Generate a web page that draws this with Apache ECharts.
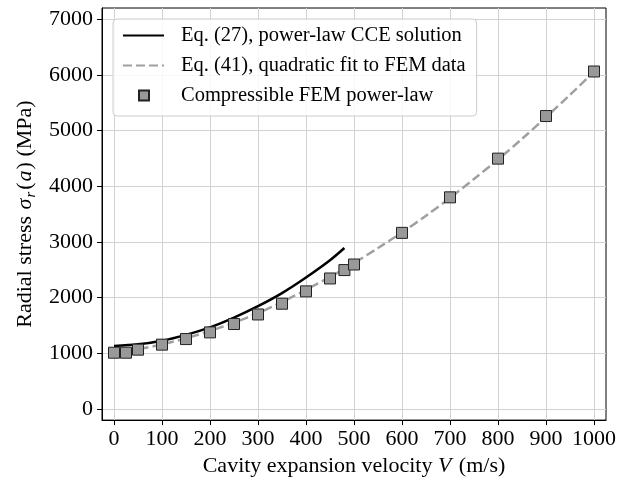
<!DOCTYPE html>
<html>
<head>
<meta charset="utf-8">
<script src="https://cdn.jsdelivr.net/npm/echarts@6/dist/echarts.min.js"></script>
<style>html,body{margin:0;padding:0;background:#fff}#c{width:627px;height:482px}</style>
</head>
<body>
<div id="c"></div>
<script>
// Tick labels
var xTicks = [0, 100, 200, 300, 400, 500, 600, 700, 800, 900, 1000];
var yTicks = [0, 1000, 2000, 3000, 4000, 5000, 6000, 7000];

// Eq. (27), power-law CCE solution
var cceV = [0, 50, 100, 150, 200, 250, 300, 350, 400, 450, 480];
var cceS = [1130, 1160, 1225, 1330, 1465, 1640, 1845, 2080, 2360, 2670, 2890];

// Eq. (41), quadratic fit to FEM data
var fitV = [0, 50, 100, 150, 200, 250, 300, 350, 400, 450, 500, 550, 600, 650, 700, 750, 800, 850, 900, 950, 1000];
var fitS = [1000, 1070, 1160, 1270, 1400, 1550, 1720, 1920, 2140, 2370, 2620, 2890, 3170, 3470, 3790, 4130, 4480, 4850, 5240, 5640, 6060];

// Compressible FEM power-law
var femV = [0, 25, 50, 100, 150, 200, 250, 300, 350, 400, 450, 480, 500, 600, 700, 800, 900, 1000];
var femS = [1010, 1010, 1065, 1155, 1255, 1375, 1525, 1697, 1890, 2112, 2343, 2494, 2594, 3162, 3800, 4495, 5260, 6060];

var names = ['Eq. (27), power-law CCE solution', 'Eq. (41), quadratic fit to FEM data', 'Compressible FEM power-law'];

function pairs(a, b) { return a.map(function (v, i) { return [v, b[i]]; }); }

var FONT = 'Liberation Serif';
var FS = 22;
var LFS = 20.5;
var chart = echarts.init(document.getElementById('c'), null, {renderer: 'canvas'});
chart.setOption({
  animation: false,
  backgroundColor: '#fff',
  textStyle: {fontFamily: FONT, color: '#000'},
  grid: {left: 102, right: 21, top: 8, bottom: 58, show: true, borderColor: '#000', borderWidth: 1, backgroundColor: 'transparent'},
  xAxis: {
    type: 'value', min: -25, max: 1025,
    name: '{n|Cavity expansion velocity }{i|V}{n| (m/s)}',
    nameLocation: 'middle', nameGap: 31,
    nameTextStyle: {rich: {
      n: {fontFamily: FONT, fontSize: FS, color: '#000'},
      i: {fontFamily: FONT, fontSize: FS, color: '#000', fontStyle: 'italic', padding: [0, 2, 0, 0]}
    }},
    axisLine: {show: true, onZero: false, lineStyle: {color: '#000', width: 1}},
    axisTick: {show: true, inside: false, length: 5, lineStyle: {color: '#000'}, customValues: xTicks},
    axisLabel: {fontFamily: FONT, fontSize: FS, color: '#000', margin: 8, customValues: xTicks,
      formatter: function (v) { return String(v); }},
    splitLine: {show: true, lineStyle: {color: '#d2d2d2', width: 1}}
  },
  yAxis: {
    type: 'value', min: -200, max: 7200,
    name: '{n|Radial stress }{i|σ}{s|r}{n|(}{i|a}{n|) (MPa)}',
    nameLocation: 'middle', nameGap: 59, nameRotate: 90,
    nameTextStyle: {rich: {
      n: {fontFamily: FONT, fontSize: FS, color: '#000'},
      i: {fontFamily: FONT, fontSize: FS, color: '#000', fontStyle: 'italic', padding: [0, 1, 0, 1]},
      s: {fontFamily: FONT, fontSize: 15, color: '#000', fontStyle: 'italic', padding: [10, 2, 0, 0]}
    }},
    axisLine: {show: true, onZero: false, lineStyle: {color: '#000', width: 1}},
    axisTick: {show: true, inside: false, length: 5, lineStyle: {color: '#000'}, customValues: yTicks},
    axisLabel: {fontFamily: FONT, fontSize: FS, color: '#000', margin: 9, customValues: yTicks,
      formatter: function (v) { return String(v); }},
    splitLine: {show: true, lineStyle: {color: '#d2d2d2', width: 1}}
  },
  legend: [{
    data: [names[0], names[1]],
    orient: 'vertical', left: 113, top: 19,
    padding: [6, 11, 40, 9],
    itemWidth: 41, itemHeight: 14, itemGap: 9,
    itemStyle: {opacity: 0},
    backgroundColor: 'rgba(255,255,255,0.85)',
    borderColor: '#cccccc', borderWidth: 1, borderRadius: 4,
    textStyle: {fontFamily: FONT, fontSize: LFS, color: '#000', lineHeight: 21, padding: [0, 0, 0, 12]},
    selectedMode: false
  }, {
    data: [names[2]],
    orient: 'vertical', left: 138, top: 85, padding: 0,
    itemWidth: 10, itemHeight: 10,
    textStyle: {fontFamily: FONT, fontSize: LFS, color: '#000', lineHeight: 21, padding: [0, 0, 0, 27]},
    selectedMode: false
  }],
  series: [{
    name: names[0], type: 'line', data: pairs(cceV, cceS), symbol: 'none', smooth: 0.3,
    lineStyle: {color: '#000', width: 2.5}, itemStyle: {color: '#000'}, z: 3
  }, {
    name: names[1], type: 'line', data: pairs(fitV, fitS), symbol: 'none', smooth: 0.3,
    lineStyle: {color: '#a0a0a0', width: 2.5, type: [9, 4]}, itemStyle: {color: '#a0a0a0'}, z: 2
  }, {
    name: names[2], type: 'scatter', data: pairs(femV, femS), symbol: 'rect', symbolSize: 11,
    itemStyle: {color: '#999999', borderColor: '#222', borderWidth: 1, opacity: 1}, z: 4
  }]
});
</script>
</body>
</html>
